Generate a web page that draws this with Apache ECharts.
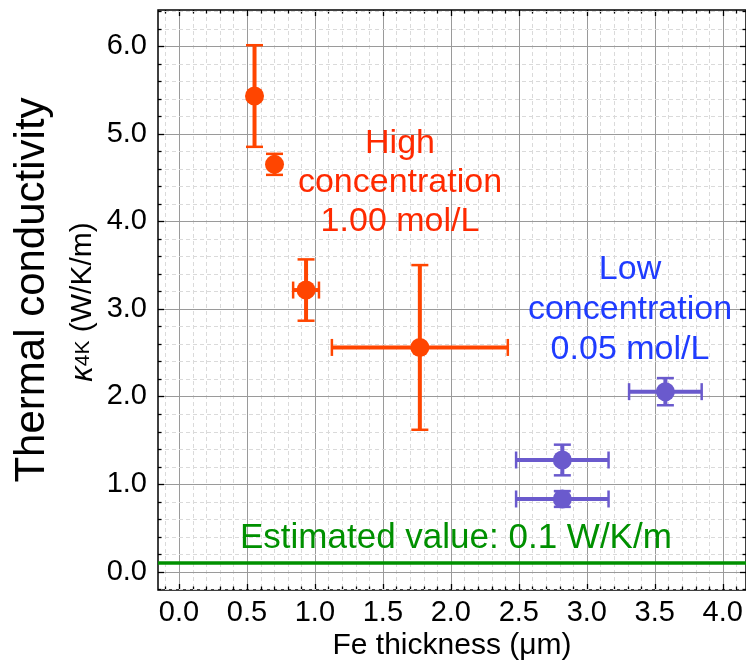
<!DOCTYPE html>
<html><head><meta charset="utf-8">
<script src="https://cdn.jsdelivr.net/npm/echarts@6/dist/echarts.min.js"></script>
<style>html,body{margin:0;padding:0;background:#fff}#c{width:746px;height:662px}</style>
</head><body><div id="c"></div>
<script>
// ---- data ----
const highX = [0.556, 0.703, 0.935, 1.772];
const highY = [5.43, 4.65, 3.215, 2.56];
const highXErr = [0, 0, 0.095, 0.647];
const highYErr = [0.58, 0.12, 0.35, 0.94];
const lowX = [3.578, 2.82, 2.82];
const lowY = [2.055, 1.275, 0.83];
const lowXErr = [0.267, 0.34, 0.34];
const lowYErr = [0.155, 0.175, 0.09];
const estimatedValue = 0.1;
const xTickValues = [0, 0.5, 1, 1.5, 2, 2.5, 3, 3.5, 4];
const xTickLabels = ['0.0','0.5','1.0','1.5','2.0','2.5','3.0','3.5','4.0'];
const yTickValues = [0, 1, 2, 3, 4, 5, 6];
const yTickLabels = ['0.0','1.0','2.0','3.0','4.0','5.0','6.0'];
const X_MIN = -0.154, X_MAX = 4.171, Y_MIN = -0.209, Y_MAX = 6.412;

const FONT = '"Liberation Sans", Arial, Helvetica, sans-serif';

// minor tick positions
const xMinor = [];
for (let k = -1; k <= 41; k++) if (k % 5 !== 0) xMinor.push(k / 10);
const yMinor = [];
for (let k = -1; k <= 32; k++) if (k % 5 !== 0) yMinor.push(+(k * 0.2).toFixed(2));

const gridData = [];
xTickValues.forEach(v => gridData.push([v, 0, 0]));
xMinor.forEach(v => gridData.push([v, 0, 1]));
yTickValues.forEach(v => gridData.push([0, v, 2]));
yMinor.forEach(v => gridData.push([0, v, 3]));

function gridRender(params, api) {
  const cs = params.coordSys;
  const kind = api.value(2);
  const ch = [];
  const major = (kind === 0 || kind === 2);
  const tl = major ? 6 : 3.5;
  const gl = { stroke: major ? '#9a9a9a' : '#dadada', lineWidth: 1, lineDash: major ? null : [4, 3] };
  const tk = { stroke: '#000', lineWidth: 1.3 };
  if (kind < 2) {
    const px = Math.round(api.coord([api.value(0), 0])[0]) + 0.5;
    ch.push({ type: 'line', shape: { x1: px, y1: cs.y, x2: px, y2: cs.y + cs.height }, style: gl });
    ch.push({ type: 'line', shape: { x1: px, y1: cs.y + cs.height, x2: px, y2: cs.y + cs.height - tl }, style: tk });
    ch.push({ type: 'line', shape: { x1: px, y1: cs.y, x2: px, y2: cs.y + tl }, style: tk });
  } else {
    const py = Math.round(api.coord([0, api.value(1)])[1]) + 0.5;
    ch.push({ type: 'line', shape: { x1: cs.x, y1: py, x2: cs.x + cs.width, y2: py }, style: gl });
    ch.push({ type: 'line', shape: { x1: cs.x, y1: py, x2: cs.x + tl, y2: py }, style: tk });
    ch.push({ type: 'line', shape: { x1: cs.x + cs.width, y1: py, x2: cs.x + cs.width - tl, y2: py }, style: tk });
  }
  return { type: 'group', children: ch, silent: true };
}

function errRender(color, lw) {
  return function (params, api) {
    const x = api.value(0), y = api.value(1), ex = api.value(2), ey = api.value(3);
    const c = api.coord([x, y]);
    const cap = 8.5;
    const bar = { stroke: color, lineWidth: lw };
    const capS = { stroke: color, lineWidth: 2.5 };
    const ch = [];
    if (ey > 0) {
      const t = api.coord([x, y + ey])[1], b = api.coord([x, y - ey])[1];
      ch.push({ type: 'line', shape: { x1: c[0], y1: t, x2: c[0], y2: b }, style: bar });
      ch.push({ type: 'line', shape: { x1: c[0] - cap, y1: t, x2: c[0] + cap, y2: t }, style: capS });
      ch.push({ type: 'line', shape: { x1: c[0] - cap, y1: b, x2: c[0] + cap, y2: b }, style: capS });
    }
    if (ex > 0) {
      const l = api.coord([x - ex, y])[0], r = api.coord([x + ex, y])[0];
      ch.push({ type: 'line', shape: { x1: l, y1: c[1], x2: r, y2: c[1] }, style: bar });
      ch.push({ type: 'line', shape: { x1: l, y1: c[1] - cap, x2: l, y2: c[1] + cap }, style: capS });
      ch.push({ type: 'line', shape: { x1: r, y1: c[1] - cap, x2: r, y2: c[1] + cap }, style: capS });
    }
    return { type: 'group', children: ch };
  };
}

const HIGH_COLOR = '#ff4500';
const LOW_COLOR = '#6a5acd';
const highErrData = highX.map((x, i) => [x, highY[i], highXErr[i], highYErr[i]]);
const lowErrData = lowX.map((x, i) => [x, lowY[i], lowXErr[i], lowYErr[i]]);

function lookup(vals, labels) {
  return function (v) {
    const i = vals.findIndex(t => Math.abs(t - v) < 1e-9);
    return i >= 0 ? labels[i] : '';
  };
}

const chart = echarts.init(document.getElementById('c'));
chart.setOption({
  animation: false,
  backgroundColor: '#fff',
  grid: { left: 158, top: 10, right: -1, bottom: 72, show: true, borderColor: '#000', borderWidth: 1.5, backgroundColor: 'transparent' },
  xAxis: {
    type: 'value', min: X_MIN, max: X_MAX,
    axisLine: { show: false }, axisTick: { show: false }, splitLine: { show: false },
    axisLabel: { customValues: xTickValues, formatter: lookup(xTickValues, xTickLabels), fontSize: 29, color: '#000', fontFamily: FONT, margin: 8 }
  },
  yAxis: {
    type: 'value', min: Y_MIN, max: Y_MAX,
    axisLine: { show: false }, axisTick: { show: false }, splitLine: { show: false },
    axisLabel: { customValues: yTickValues, formatter: lookup(yTickValues, yTickLabels), fontSize: 29, color: '#000', fontFamily: FONT, margin: 11 }
  },
  series: [
    { type: 'custom', renderItem: gridRender, data: gridData, silent: true, z: 1, clip: false },
    { type: 'custom', renderItem: errRender(HIGH_COLOR, 4), data: highErrData, z: 3 },
    { type: 'custom', renderItem: errRender(LOW_COLOR, 4), data: lowErrData, z: 3 },
    { type: 'scatter', data: highX.map((x, i) => [x, highY[i]]), symbol: 'circle', symbolSize: 19, itemStyle: { color: HIGH_COLOR, opacity: 1 }, z: 4,
      markLine: { silent: true, symbol: 'none', label: { show: false }, data: [{ yAxis: estimatedValue }], lineStyle: { color: '#009000', width: 3.5, type: 'solid' } } },
    { type: 'scatter', data: lowX.map((x, i) => [x, lowY[i]]), symbol: 'circle', symbolSize: 19, itemStyle: { color: LOW_COLOR, opacity: 1 }, z: 4 }
  ],
  graphic: [
    { type: 'text', x: 400, y: 183, z: 10, style: { text: 'High\nconcentration\n1.00 mol/L', fill: '#ff2a00', fontSize: 34, fontFamily: FONT, lineHeight: 39, align: 'center', verticalAlign: 'middle', textAlign: 'center', textVerticalAlign: 'middle' } },
    { type: 'text', x: 630, y: 310, z: 10, style: { text: 'Low\nconcentration\n0.05 mol/L', fill: '#1f3cff', fontSize: 34, fontFamily: FONT, lineHeight: 40, align: 'center', verticalAlign: 'middle', textAlign: 'center', textVerticalAlign: 'middle' } },
    { type: 'text', x: 240, y: 538, z: 10, style: { text: 'Estimated value: 0.1 W/K/m', fill: '#009000', fontSize: 35, fontFamily: FONT, align: 'left', verticalAlign: 'middle', textAlign: 'left', textVerticalAlign: 'middle' } },
    { type: 'text', x: 452, y: 646, z: 10, style: { text: 'Fe thickness (μm)', fill: '#000', fontSize: 30, fontFamily: FONT, align: 'center', verticalAlign: 'middle', textAlign: 'center', textVerticalAlign: 'middle' } },
    { type: 'text', x: 32, y: 290, rotation: Math.PI / 2, z: 10, style: { text: 'Thermal conductivity', fill: '#000', fontSize: 42, fontFamily: FONT, align: 'center', verticalAlign: 'middle', textAlign: 'center', textVerticalAlign: 'middle' } },
    { type: 'text', x: 83, y: 302, rotation: Math.PI / 2, z: 10, style: { text: '{k|κ}{s|4K}{n| (W/K/m)}', fill: '#000', fontFamily: FONT, fontSize: 30, align: 'center', verticalAlign: 'middle', textAlign: 'center', textVerticalAlign: 'middle',
      rich: { k: { fontSize: 31, fontStyle: 'italic', fontFamily: FONT, fill: '#000' }, s: { fontSize: 21, fontFamily: FONT, fill: '#000' }, n: { fontSize: 30, fontFamily: FONT, fill: '#000' } } } }
  ]
});
</script>
</body></html>
